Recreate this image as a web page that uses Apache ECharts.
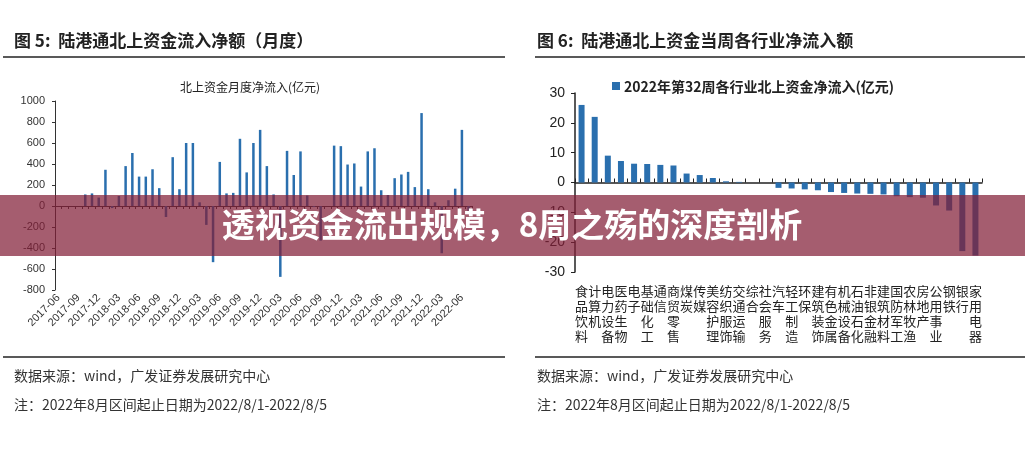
<!DOCTYPE html>
<html><head><meta charset="utf-8">
<script src="https://cdn.jsdelivr.net/npm/echarts@6/dist/echarts.min.js"></script>
<style>html,body{margin:0;padding:0;background:#fff}#c{width:1025px;height:451px}</style>
</head><body><div id="c"></div>
<script>
const months = ['2017-06','2017-07','2017-08','2017-09','2017-10','2017-11','2017-12','2018-01','2018-02','2018-03','2018-04','2018-05','2018-06','2018-07','2018-08','2018-09','2018-10','2018-11','2018-12','2019-01','2019-02','2019-03','2019-04','2019-05','2019-06','2019-07','2019-08','2019-09','2019-10','2019-11','2019-12','2020-01','2020-02','2020-03','2020-04','2020-05','2020-06','2020-07','2020-08','2020-09','2020-10','2020-11','2020-12','2021-01','2021-02','2021-03','2021-04','2021-05','2021-06','2021-07','2021-08','2021-09','2021-10','2021-11','2021-12','2022-01','2022-02','2022-03','2022-04','2022-05','2022-06','2022-07'];
const monthlyFlow = [0,0,0,0,110,120,80,345,-20,95,380,505,280,280,350,170,-105,465,160,600,600,35,-180,-535,420,120,125,640,320,600,725,380,110,-675,525,295,520,100,-10,-330,0,575,570,395,405,185,520,550,150,105,265,300,325,180,885,160,35,-450,55,165,725,-50];
const industries = ['食品饮料','计算机','电力设备','医药生物','电子','基础化工','通信','商贸零售','煤炭','传媒','美容护理','纺织服饰','交通运输','综合','社会服务','汽车','轻工制造','环保','建筑装饰','有色金属','机械设备','石油石化','非银金融','建筑材料','国防军工','农林牧渔','房地产','公用事业','钢铁','银行','家用电器'];
const weeklyFlow = [26,22,9,7.2,6.3,6.2,5.9,5.7,3,2.5,1.5,0.4,0.2,0,0,-1.8,-2,-2.3,-2.6,-3.2,-3.5,-3.7,-3.8,-4,-4.6,-4.9,-5.1,-7.7,-9.4,-23,-24.5];

const blue = '#2a6fae';
const dark = '#222';
const chart = echarts.init(document.getElementById('c'));
const txt = (x,y,t,s,extra,z) => ({type:'text',x,y,z:z||1,style:Object.assign({text:t,fill:dark,font:s},extra||{})});
chart.setOption({
  animation:false,
  backgroundColor:'#fff',
  grid:[{left:55,top:101,right:553,bottom:161},{left:575,top:93,right:43,bottom:179}],
  xAxis:[
    {gridIndex:0,type:'category',data:months,axisLine:{onZero:true,lineStyle:{color:'#333'}},axisTick:{show:true,length:3,interval:0,lineStyle:{color:'#333'}},axisLabel:{show:false}},
    {gridIndex:0,type:'category',data:months,position:'bottom',axisLine:{show:false,onZero:false},axisTick:{show:false},axisLabel:{interval:2,rotate:45,fontSize:11,color:'#333',fontFamily:'Liberation Sans',margin:6}},
    {gridIndex:1,type:'category',data:industries,axisLine:{onZero:true,lineStyle:{color:'#222',width:1.5}},axisTick:{show:true,length:4,interval:0,inside:true,lineStyle:{color:'#222'}},axisLabel:{show:false}},
    {gridIndex:1,type:'category',data:industries,position:'bottom',axisLine:{show:false,onZero:false},axisTick:{show:false},axisLabel:{interval:0,fontSize:13,lineHeight:15,color:'#222',fontFamily:'Noto Sans CJK SC',margin:12,formatter:v=>v.split('').join('\n'),verticalAlign:'top'}}
  ],
  yAxis:[
    {gridIndex:0,type:'value',min:-800,max:1000,interval:200,splitLine:{show:false},axisLine:{show:true,lineStyle:{color:'#333'}},axisTick:{show:true,length:3},axisLabel:{fontSize:11,color:'#333',fontFamily:'Liberation Sans',margin:10,formatter:v=>String(v)}},
    {gridIndex:1,type:'value',min:-30,max:30,interval:10,splitLine:{show:false},axisLine:{show:true,lineStyle:{color:'#222',width:1.5}},axisTick:{show:true,length:4},axisLabel:{fontSize:14,color:'#222',fontFamily:'Liberation Sans',margin:10}}
  ],
  series:[
    {type:'bar',xAxisIndex:0,yAxisIndex:0,data:monthlyFlow,barWidth:2.5,itemStyle:{color:blue}},
    {type:'bar',xAxisIndex:2,yAxisIndex:1,data:weeklyFlow,barWidth:6,itemStyle:{color:blue}}
  ],
  graphic:[
    txt(14,32,'图 5:  陆港通北上资金流入净额（月度）','bold 17px "Noto Sans CJK SC"'),
    txt(537,32,'图 6:  陆港通北上资金当周各行业净流入额','bold 17px "Noto Sans CJK SC"'),
    {type:'line',shape:{x1:3,y1:57,x2:505,y2:57},style:{stroke:'#222',lineWidth:1.5}},
    {type:'line',shape:{x1:535,y1:57,x2:1025,y2:57},style:{stroke:'#222',lineWidth:1.5}},
    {type:'line',shape:{x1:3,y1:357,x2:505,y2:357},style:{stroke:'#222',lineWidth:1.5}},
    {type:'line',shape:{x1:535,y1:357,x2:1025,y2:357},style:{stroke:'#222',lineWidth:1.5}},
    txt(250,87,'北上资金月度净流入(亿元)','12px "Noto Sans CJK SC"',{align:'center',verticalAlign:'middle'}),
    {type:'rect',shape:{x:612,y:82,width:8,height:8},style:{fill:blue}},
    txt(624,87,'2022年第32周各行业北上资金净流入(亿元)','bold 14px "Noto Sans CJK SC"',{verticalAlign:'middle'}),
    txt(14,369,'数据来源：wind，广发证券发展研究中心','14px "Noto Sans CJK SC"',{fill:'#333'}),
    txt(537,369,'数据来源：wind，广发证券发展研究中心','14px "Noto Sans CJK SC"',{fill:'#333'}),
    txt(14,398,'注：2022年8月区间起止日期为2022/8/1-2022/8/5','14px "Noto Sans CJK SC"',{fill:'#333'}),
    txt(537,398,'注：2022年8月区间起止日期为2022/8/1-2022/8/5','14px "Noto Sans CJK SC"',{fill:'#333'}),
    {type:'rect',z:100,shape:{x:0,y:195,width:1025,height:61},style:{fill:'rgba(130,30,55,0.72)'}},
    txt(512,224,'透视资金流出规模，8周之殇的深度剖析','bold 33px "Noto Sans CJK SC"',{fill:'#fff',align:'center',verticalAlign:'middle'},101)
  ]
});
</script></body></html>
